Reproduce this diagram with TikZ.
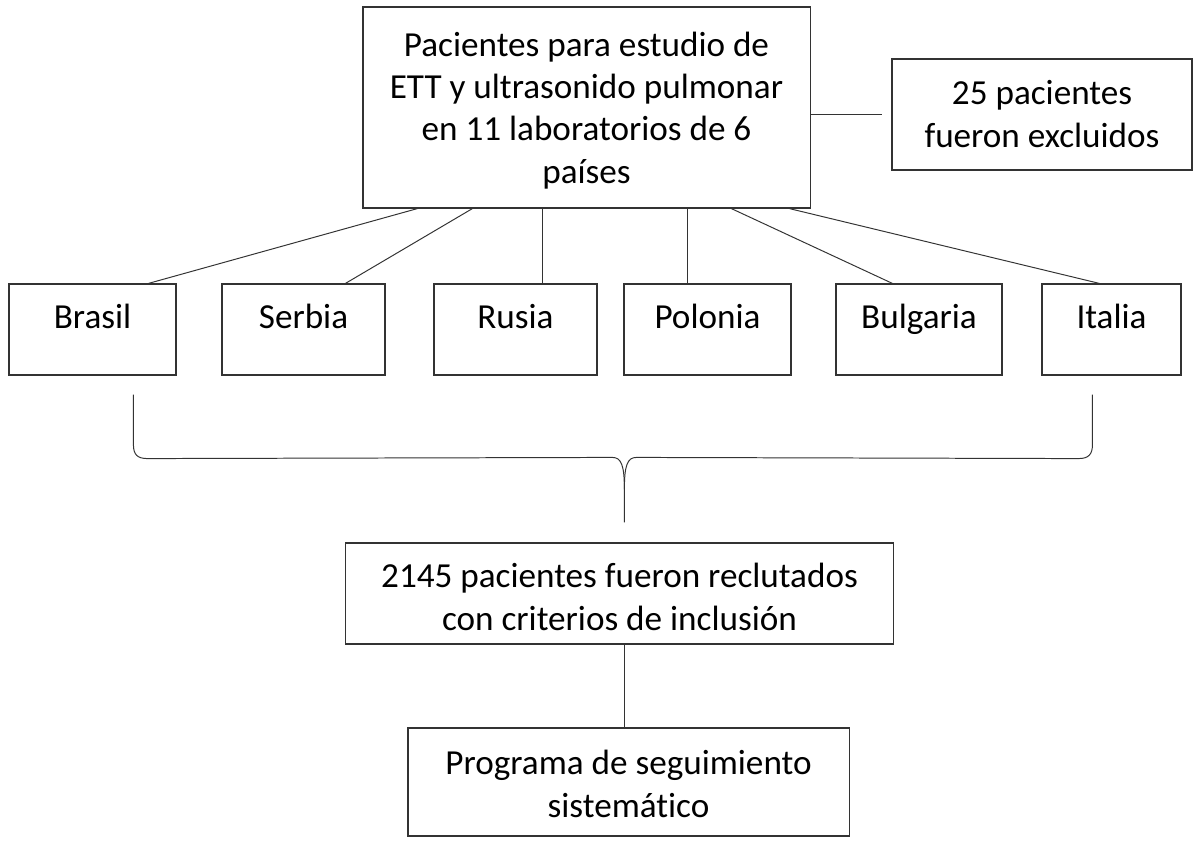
\documentclass[tikz,border=0pt]{standalone}
\usepackage{fontspec}
\setmainfont[Ligatures=CommonOff]{Carlito}
\usepackage{tikz}
\usetikzlibrary{calc}

\tikzset{
  box/.style={draw=black!80, line width=0.8pt, inner sep=0pt, align=center, font=\fontsize{25}{30}\selectfont},
  country/.style={box, text height=1.1cm, text depth=1.175cm},
  link/.style={draw=black!80, line width=0.7pt}
}

\begin{document}
\begin{tikzpicture}[x=0.025cm, y=-0.025cm]
\useasboundingbox (0,0) rectangle (1200,846);

\node[box, minimum width=11.175cm, text height=4.4cm, text depth=0.625cm] (top) at (586.5,107.5) {Pacientes para estudio de\\ETT y ultrasonido pulmonar\\en 11 laboratorios de 6\\países};
\node[box, minimum width=7.5cm, text height=2.2cm, text depth=0.575cm] (excl) at (1042,114.5) {25 pacientes\\fueron excluidos};

\node[country, minimum width=4.175cm] (brasil) at (92.5,329.5) {Brasil};
\node[country, minimum width=4.075cm] (serbia) at (303.5,329.5) {Serbia};
\node[country, minimum width=4.075cm] (rusia) at (515.5,329.5) {Rusia};
\node[country, minimum width=4.175cm] (polonia) at (707.5,329.5) {Polonia};
\node[country, minimum width=4.15cm] (bulgaria) at (919,329.5) {Bulgaria};
\node[country, minimum width=3.475cm] (italia) at (1111.5,329.5) {Italia};

\node[box, minimum width=13.675cm, text height=2.175cm, text depth=0.35cm] (recl) at (619.5,593.5) {2145 pacientes fueron reclutados\\con criterios de inclusión};
\node[box, minimum width=11.025cm, text height=2.225cm, text depth=0.475cm] (prog) at (628.5,782) {Programa de seguimiento\\sistemático};

% top box to the countries
\draw[link] ($(top.south west)+(55,0)$) -- ($(brasil.north west)+(140,0)$);
\draw[link] ($(top.south west)+(110,0)$) -- ($(serbia.north west)+(124,0)$);
\draw[link] ($(top.south west)+(180,0)$) coordinate (r1) -- (r1 |- rusia.north);
\draw[link] ($(top.south west)+(325,0)$) coordinate (p1) -- (p1 |- polonia.north);
\draw[link] ($(top.south west)+(369,0)$) -- ($(bulgaria.north west)+(57,0)$);
\draw[link] ($(top.south west)+(427,0)$) -- ($(italia.north west)+(58,0)$);

% excluded
\coordinate (e1) at ($(excl.west)+(-9,0)$);
\draw[link] (top.east |- excl.west) -- (e1);

% brace
\coordinate (bl) at ($(brasil.south west)+(125,19)$);
\coordinate (br) at ($(italia.south west)+(51,19)$);
\coordinate (tip) at ($(recl.north west)+(279,-20)$);
\draw[link] (bl) -- ($(bl)+(0,50)$) .. controls ($(bl)+(0,60)$) and ($(bl)+(4,64)$) .. ($(bl)+(14,64)$)
  -- ($(tip)+(-12,-65)$) .. controls ($(tip)+(-3,-65)$) and ($(tip)+(0,-57)$) .. ($(tip)+(0,-33)$) -- (tip);
\draw[link] (br) -- ($(br)+(0,50)$) .. controls ($(br)+(0,60)$) and ($(br)+(-4,64)$) .. ($(br)+(-14,64)$)
  -- ($(tip)+(12,-65)$) .. controls ($(tip)+(3,-65)$) and ($(tip)+(0,-57)$) .. ($(tip)+(0,-33)$);

% follow-up
\draw[link] ($(recl.south west)+(279,0)$) coordinate (c1) -- (c1 |- prog.north);
\end{tikzpicture}
\end{document}
